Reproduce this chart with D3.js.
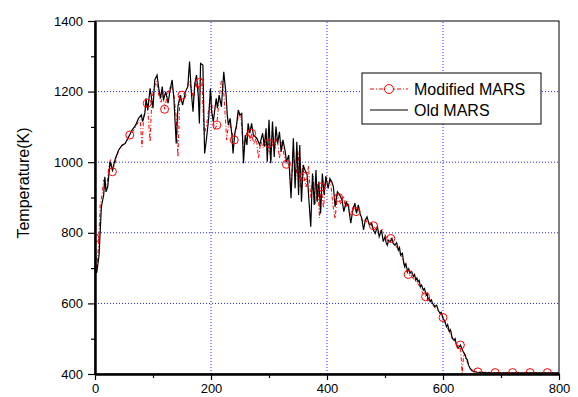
<!DOCTYPE html>
<html>
<head>
<meta charset="utf-8">
<script src="https://cdn.jsdelivr.net/npm/d3@7"></script>
<style>
  body { margin: 0; background: #fff; }
  text { font-family: Arial, "Liberation Sans", sans-serif; }
</style>
</head>
<body>
<div id="chart"></div>
<script>
// axis ticks
const xTicks = [0, 200, 400, 600, 800];
const xMinor = [100, 300, 500, 700];
const yTicks = [400, 600, 800, 1000, 1200, 1400];
const yMinor = [500, 700, 900, 1100, 1300];
const xGrid = [200, 400, 600];
const yGrid = [600, 800, 1000, 1200];

// Old MARS (black solid)
const oldX = [0.5, 3, 7, 11, 15, 17, 19, 22, 26, 30, 35, 41,
  47, 52, 58, 64, 70, 75, 80, 82, 86, 88, 91, 95,
  100, 103, 107, 110, 113, 116, 118, 122, 126, 130, 133, 136,
  140, 143, 147, 151, 156, 160, 163, 166, 169, 172, 175, 178,
  180, 182, 186, 189, 192, 196, 199, 201, 204, 209, 211, 214,
  218, 222, 226, 228, 230, 233, 236, 238, 241, 244, 247, 250,
  253, 256, 259, 262, 264, 267, 270, 273, 279, 284, 289, 292,
  295, 297, 300, 303, 306, 309, 312, 315, 318, 321, 324, 328,
  330, 334, 338, 342, 345, 348, 351, 353, 356, 359, 362, 366,
  369, 372, 375, 378, 381, 383, 386, 389, 392, 395, 398, 402,
  405, 408, 411, 414, 418, 422, 426, 429, 433, 437, 441, 444,
  448, 451, 454, 457, 460, 463, 466, 469, 473, 477, 480, 483,
  487, 490, 494, 497, 500, 502, 504, 506, 509, 512, 514, 517,
  520, 523, 525, 527, 530, 532, 534, 536, 539, 541, 543, 546,
  549, 551, 553, 555, 557, 559, 561, 563, 566, 568, 571, 573,
  574, 576, 578, 580, 582, 584, 586, 589, 592, 595, 597, 600,
  603, 606, 608, 611, 613, 616, 619, 621, 623, 626, 630, 633,
  635, 638, 640, 642, 644, 647, 650, 658, 680, 800];
const oldT = [700, 686, 737, 874, 907, 959, 916, 931, 1001, 978, 1010, 1035,
  1049, 1053, 1072, 1091, 1105, 1124, 1134, 1115, 1138, 1181, 1148, 1209,
  1153, 1233, 1247, 1209, 1181, 1214, 1176, 1200, 1167, 1209, 1233, 1181,
  1053, 1158, 1190, 1162, 1200, 1214, 1285, 1200, 1143, 1223, 1247, 1190,
  1110, 1280, 1275, 1025, 1063, 1124, 1209, 1143, 1115, 1181, 1153, 1190,
  1157, 1256, 1190, 1134, 1105, 1124, 1077, 1025, 1082, 1105, 1148, 1134,
  1138, 997, 1077, 1049, 1110, 1082, 1110, 1077, 1068, 1049, 1082, 1044,
  1096, 1001, 1120, 997, 1115, 1015, 1101, 1053, 1086, 1030, 1063, 1030,
  1001, 1020, 898, 1068, 926, 1058, 907, 1049, 888, 992, 978, 964,
  888, 817, 968, 879, 978, 888, 945, 855, 968, 907, 959, 926,
  954, 945, 931, 874, 916, 907, 893, 860, 888, 874, 827, 860,
  884, 855, 879, 855, 841, 808, 836, 845, 822, 827, 808, 798,
  817, 789, 808, 775, 789, 772, 765, 778, 775, 784, 770, 765,
  772, 751, 758, 737, 742, 718, 704, 712, 690, 698, 685, 690,
  676, 682, 666, 672, 661, 665, 647, 652, 638, 642, 624, 628,
  610, 615, 605, 610, 600, 596, 591, 595, 580, 572, 575, 558,
  550, 534, 540, 520, 525, 501, 496, 500, 482, 473, 482, 470,
  463, 455, 444, 440, 425, 415, 409, 405, 403, 403];

// Modified MARS (red dash-dot, circle every 30)
const modX = [0, 3, 6, 9, 12, 15, 18, 21, 24, 27, 30, 35, 40, 45, 50, 55, 60, 65, 70, 75, 78, 81, 84, 87, 90, 95,
  98, 102, 106, 110, 114, 117, 120, 124, 128, 132, 136, 140, 143, 146, 150, 154, 158, 162, 166, 170, 174, 177, 180,
  184, 188, 192, 196, 200, 203, 206, 210, 214, 218, 222, 227, 231, 235, 240, 244, 248, 252, 256, 260, 264, 268, 270,
  274, 278, 282, 286, 290, 294, 298, 300, 303, 306, 310, 314, 318, 322, 326, 330, 334, 338, 342, 346, 350, 354, 358,
  360, 364, 368, 372, 376, 380, 384, 387, 390, 394, 398, 402, 406, 410, 414, 418, 420, 424, 428, 432, 436, 440, 444,
  448, 450, 454, 458, 462, 466, 470, 474, 478, 480, 485, 490, 495, 500, 505, 510, 515, 520, 525, 530, 535, 540, 545,
  550, 555, 560, 565, 570, 575, 580, 585, 590, 595, 600, 605, 610, 615, 620, 625, 630, 633, 636, 640, 646, 652, 660,
  690, 720, 750, 780, 800];
const modT = [785, 700, 760, 880, 905, 950, 925, 940, 990, 1010, 973, 1000, 1030, 1045, 1050, 1060, 1077, 1085, 1100, 1115, 1120, 1044, 1130, 1150, 1167, 1058,
  1180, 1210, 1230, 1190, 1170, 1200, 1150, 1185, 1210, 1215, 1190, 1130, 1015, 1170, 1190, 1195, 1205, 1230, 1210, 1180, 1230, 1200, 1226,
  1240, 1080, 1100, 1150, 1200, 1130, 1090, 1105, 1180, 1233, 1200, 1063, 1120, 1090, 1063, 1100, 1140, 1120, 1030, 1070, 1100, 1060, 1082,
  1050, 1070, 1011, 1060, 1040, 1080, 1030, 1053, 1006, 1090, 1040, 1070, 1010, 1060, 1020, 994, 1000, 920, 1040, 950, 1030, 930, 990,
  960, 930, 990, 900, 960, 880, 940, 842, 930, 870, 960, 930, 950, 880, 840, 910, 900, 880, 905, 870, 890, 850, 870,
  880, 860, 870, 845, 830, 840, 825, 830, 815, 820, 810, 800, 810, 795, 780, 784, 770, 760, 745, 725, 700, 682, 678,
  668, 660, 648, 630, 619, 610, 600, 590, 580, 572, 560, 540, 522, 505, 495, 480, 482, 402, 460, 440, 420, 408, 406,
  404, 404, 404, 404, 403];

const width = 578, height = 397;
const margin = { left: 95, right: 19, top: 21, bottom: 23 };

const svg = d3.select('#chart').append('svg')
  .attr('width', width)
  .attr('height', height);

const x = d3.scaleLinear().domain([0, 800]).range([margin.left, width - margin.right]);
const y = d3.scaleLinear().domain([400, 1400]).range([height - margin.bottom, margin.top]);

svg.append('clipPath').attr('id', 'clip')
  .append('rect')
    .attr('x', x(0)).attr('y', y(1400))
    .attr('width', x(800) - x(0)).attr('height', y(400) - y(1400));

// gridlines
svg.append('g').selectAll('line').data(xGrid).enter().append('line')
  .attr('x1', d => x(d)).attr('x2', d => x(d))
  .attr('y1', y(400)).attr('y2', y(1400))
  .attr('stroke', '#2020ff').attr('stroke-dasharray', '1,2');
svg.append('g').selectAll('line').data(yGrid).enter().append('line')
  .attr('x1', x(0)).attr('x2', x(800))
  .attr('y1', d => y(d)).attr('y2', d => y(d))
  .attr('stroke', '#2020ff').attr('stroke-dasharray', '1,2');

const plot = svg.append('g').attr('clip-path', 'url(#clip)');

const modData = modX.map((v, i) => ({ x: v, t: modT[i] }));
const oldData = oldX.map((v, i) => ({ x: v, t: oldT[i] }));

const line = d3.line().x(d => x(d.x)).y(d => y(d.t));

plot.append('path')
  .datum(modData)
  .attr('d', line)
  .attr('fill', 'none')
  .attr('stroke', '#ff0000')
  .attr('stroke-width', 1)
  .attr('stroke-dasharray', '4,2,1,2');

plot.append('path')
  .datum(oldData)
  .attr('d', line)
  .attr('fill', 'none')
  .attr('stroke', '#000')
  .attr('stroke-width', 1.2);

plot.selectAll('circle')
  .data(modData.filter(d => d.x % 30 === 0))
  .enter()
  .append('circle')
    .attr('cx', d => x(d.x))
    .attr('cy', d => y(d.t))
    .attr('r', 4)
    .attr('fill', 'none')
    .attr('stroke', '#ff0000')
    .attr('stroke-width', 1);

// frame
svg.append('rect')
  .attr('x', x(0)).attr('y', y(1400))
  .attr('width', x(800) - x(0)).attr('height', y(400) - y(1400))
  .attr('fill', 'none').attr('stroke', '#000').attr('stroke-width', 1);

// axes
svg.append('g')
  .attr('transform', 'translate(0,' + y(400) + ')')
  .call(d3.axisBottom(x).tickValues(xTicks).tickFormat(d3.format('d')).tickSize(6).tickPadding(4).tickSizeOuter(0));
svg.append('g')
  .attr('transform', 'translate(0,' + y(400) + ')')
  .call(d3.axisBottom(x).tickValues(xMinor).tickSize(4).tickFormat(() => '').tickSizeOuter(0));

svg.append('g')
  .attr('transform', 'translate(' + x(0) + ',0)')
  .call(d3.axisLeft(y).tickValues(yTicks).tickFormat(d3.format('d')).tickSize(7).tickPadding(5).tickSizeOuter(0));
svg.append('g')
  .attr('transform', 'translate(' + x(0) + ',0)')
  .call(d3.axisLeft(y).tickValues(yMinor).tickSize(4).tickFormat(() => '').tickSizeOuter(0));

svg.selectAll('.domain').attr('stroke-width', 2);
svg.selectAll('.tick line').attr('stroke-width', 1.2);
svg.selectAll('.tick text')
  .attr('font-size', 13)
  .attr('font-family', 'Arial, "Liberation Sans", sans-serif')
  .attr('fill', '#000');

// y title
svg.append('text')
  .attr('transform', 'translate(29,183) rotate(-90)')
  .attr('text-anchor', 'middle')
  .attr('font-size', 16)
  .text('Temperature(K)');

// legend
const legend = svg.append('g');
legend.append('rect')
  .attr('x', 362).attr('y', 73).attr('width', 179).attr('height', 51)
  .attr('fill', '#fff').attr('stroke', '#000').attr('stroke-width', 1);

const legendItems = ['Modified MARS', 'Old MARS'];
legendItems.forEach((name, i) => {
  const ly = 89 + i * 21;
  legend.append('line')
    .attr('x1', 370).attr('x2', 408).attr('y1', ly).attr('y2', ly)
    .attr('stroke', i === 0 ? '#ff0000' : '#000')
    .attr('stroke-width', i === 0 ? 1 : 1.2)
    .attr('stroke-dasharray', i === 0 ? '4,2,1,2' : null);
  if (i === 0) {
    legend.append('circle')
      .attr('cx', 389).attr('cy', ly).attr('r', 4.5)
      .attr('fill', '#fff').attr('stroke', '#ff0000');
  }
  legend.append('text')
    .attr('x', 414).attr('y', ly + 5.5)
    .attr('font-size', 16)
    .text(name);
});
</script>
</body>
</html>
